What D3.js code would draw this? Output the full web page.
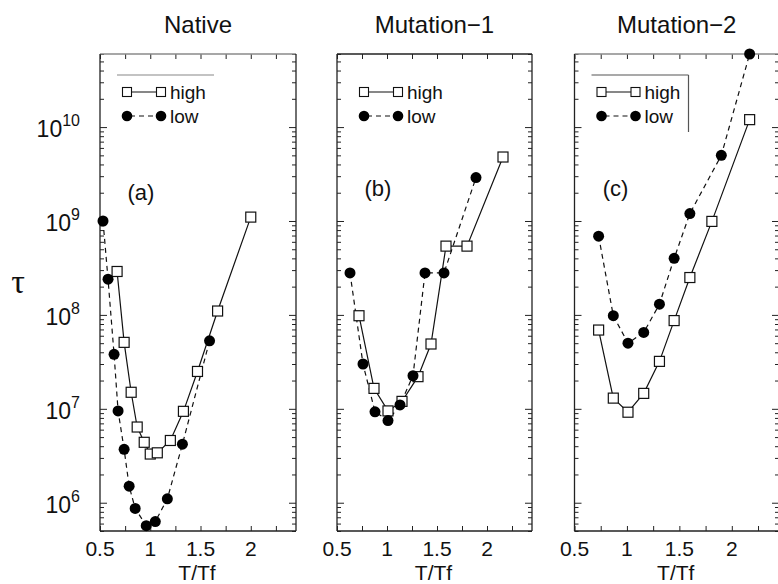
<!DOCTYPE html>
<html>
<head>
<meta charset="utf-8">
<script src="https://cdn.jsdelivr.net/npm/d3@7"></script>
<style>
  html, body { margin: 0; padding: 0; background: #fff; }
  svg { display: block; font-family: "Liberation Sans", Arial, Helvetica, sans-serif; }
</style>
</head>
<body>
<svg id="chart" width="778" height="584"></svg>
<script>
// Folding time tau versus reduced temperature T/Tf, three sequences
const panelTitles = ["Native", "Mutation\u22121", "Mutation\u22122"];
const panelTags = ["(a)", "(b)", "(c)"];
const seriesNames = ["high", "low"];

// Native
const nativeHighT = [0.67, 0.74, 0.81, 0.87, 0.94, 1.00, 1.07, 1.20, 1.33, 1.47, 1.67, 2.00];
const nativeHighTau = [2.9e8, 5.1e7, 1.5e7, 6.4e6, 4.4e6, 3.3e6, 3.4e6, 4.6e6, 9.4e6, 2.5e7, 1.1e8, 1.1e9];
const nativeLowT = [0.53, 0.58, 0.64, 0.68, 0.74, 0.79, 0.85, 0.96, 1.05, 1.17, 1.32, 1.59];
const nativeLowTau = [1.0e9, 2.4e8, 3.8e7, 9.5e6, 3.7e6, 1.5e6, 8.7e5, 5.7e5, 6.3e5, 1.1e6, 4.2e6, 5.3e7];

// Mutation-1
const mut1HighT = [0.72, 0.87, 1.01, 1.15, 1.31, 1.44, 1.59, 1.80, 2.16];
const mut1HighTau = [9.8e7, 1.65e7, 9.5e6, 1.2e7, 2.2e7, 4.9e7, 5.4e8, 5.4e8, 4.8e9];
const mut1LowT = [0.63, 0.76, 0.88, 1.01, 1.13, 1.26, 1.38, 1.57, 1.89];
const mut1LowTau = [2.8e8, 3.0e7, 9.3e6, 7.5e6, 1.1e7, 2.25e7, 2.8e8, 2.8e8, 2.9e9];

// Mutation-2
const mut2HighT = [0.73, 0.87, 1.01, 1.16, 1.31, 1.45, 1.60, 1.81, 2.17];
const mut2HighTau = [6.9e7, 1.3e7, 9.2e6, 1.46e7, 3.2e7, 8.7e7, 2.5e8, 9.9e8, 1.2e10];
const mut2LowT = [0.73, 0.87, 1.01, 1.16, 1.31, 1.45, 1.60, 1.90, 2.17];
const mut2LowTau = [6.9e8, 9.8e7, 5.0e7, 6.5e7, 1.3e8, 4.0e8, 1.2e9, 5.0e9, 6.0e10];

// Axis ticks
const xTickValues = [0.5, 1, 1.5, 2];
const xTickLabels = ["0.5", "1", "1.5", "2"];
const yTickExponents = [6, 7, 8, 9, 10];

const xDomain = [0.5, 2.45];
const yDomain = [5e5, 6e10];

const zip = (a, b) => a.map((v, i) => [v, b[i]]);
const panels = [
  { high: zip(nativeHighT, nativeHighTau), low: zip(nativeLowT, nativeLowTau), left: 100, right: 296, legendBox: "top" },
  { high: zip(mut1HighT, mut1HighTau), low: zip(mut1LowT, mut1LowTau), left: 337, right: 532, legendBox: "none" },
  { high: zip(mut2HighT, mut2HighTau), low: zip(mut2LowT, mut2LowTau), left: 574.5, right: 779, legendBox: "topright" }
];

const plotTop = 54, plotBottom = 531;
const svg = d3.select("#chart");
const y = d3.scaleLog().domain(yDomain).range([plotBottom, plotTop]);

// minor ticks of the log axis: 2..9 × 10^k
const yMinor = [];
for (let k = 5; k <= 10; k++) for (let m = 2; m <= 9; m++) {
  const v = m * Math.pow(10, k);
  if (v >= yDomain[0] && v <= yDomain[1]) yMinor.push(v);
}
const yMajor = yTickExponents.map(e => Math.pow(10, e));
const xAll = d3.range(0.5, 2.45, 0.25);

panels.forEach((p, i) => {
  const x = d3.scaleLinear().domain(xDomain).range([p.left, p.right]);
  const g = svg.append("g");

  // ticks, all pointing inward
  const tickStyle = sel => { sel.select(".domain").remove(); sel.selectAll("line").attr("stroke", "#222").attr("stroke-width", 1); };
  g.append("g").attr("transform", `translate(${p.left},0)`)
    .call(d3.axisRight(y).tickValues(yMinor).tickSize(4).tickFormat("")).call(tickStyle);
  g.append("g").attr("transform", `translate(${p.left},0)`)
    .call(d3.axisRight(y).tickValues(yMajor).tickSize(7).tickFormat("")).call(tickStyle);
  g.append("g").attr("transform", `translate(${p.right},0)`)
    .call(d3.axisLeft(y).tickValues(yMinor).tickSize(4).tickFormat("")).call(tickStyle);
  g.append("g").attr("transform", `translate(${p.right},0)`)
    .call(d3.axisLeft(y).tickValues(yMajor).tickSize(7).tickFormat("")).call(tickStyle);
  g.append("g").attr("transform", `translate(0,${plotBottom})`)
    .call(d3.axisTop(x).tickValues(xAll).tickSize(5).tickFormat("")).call(tickStyle);
  g.append("g").attr("transform", `translate(0,${plotTop})`)
    .call(d3.axisBottom(x).tickValues(xAll).tickSize(5).tickFormat("")).call(tickStyle);

  // frame
  const topColor = (i === 1) ? "#222" : "#8a8a8a";
  g.append("line").attr("x1", p.left).attr("x2", p.right).attr("y1", plotTop).attr("y2", plotTop).attr("stroke", topColor).attr("stroke-width", 1.3);
  g.append("line").attr("x1", p.left).attr("x2", p.right).attr("y1", plotBottom).attr("y2", plotBottom).attr("stroke", "#222").attr("stroke-width", 1.3);
  g.append("line").attr("x1", p.left).attr("x2", p.left).attr("y1", plotTop).attr("y2", plotBottom).attr("stroke", "#222").attr("stroke-width", 1.3);
  g.append("line").attr("x1", p.right).attr("x2", p.right).attr("y1", plotTop).attr("y2", plotBottom).attr("stroke", "#222").attr("stroke-width", 1.3);

  // x tick labels
  g.selectAll(".xl").data(xTickValues).enter().append("text")
    .attr("x", d => x(d)).attr("y", 556).attr("text-anchor", "middle")
    .attr("font-size", 21).attr("fill", "#111")
    .text((d, j) => xTickLabels[j]);

  // x axis title
  g.append("text").attr("x", (p.left + p.right) / 2 - 1).attr("y", 579.5)
    .attr("text-anchor", "middle").attr("font-size", 21).attr("fill", "#111").text("T/Tf");

  // panel title
  g.append("text").attr("x", (p.left + p.right) / 2).attr("y", 33)
    .attr("text-anchor", "middle").attr("font-size", 24).attr("fill", "#111").text(panelTitles[i]);

  // panel tag
  g.append("text").attr("x", p.left + 41).attr("y", i === 0 ? 200 : 196)
    .attr("text-anchor", "middle").attr("font-size", 22).attr("fill", "#111").text(panelTags[i]);

  // curves
  const line = d3.line().x(d => x(d[0])).y(d => y(d[1]));
  g.append("path").datum(p.high).attr("d", line).attr("fill", "none")
    .attr("stroke", "#111").attr("stroke-width", 1.2);
  g.append("path").datum(p.low).attr("d", line).attr("fill", "none")
    .attr("stroke", "#111").attr("stroke-width", 1.2).attr("stroke-dasharray", "5,4");

  g.selectAll(".hi").data(p.high).enter().append("rect")
    .attr("x", d => x(d[0]) - 5).attr("y", d => y(d[1]) - 5)
    .attr("width", 10).attr("height", 10)
    .attr("fill", "#fff").attr("stroke", "#111").attr("stroke-width", 1.2);
  g.selectAll(".lo").data(p.low).enter().append("circle")
    .attr("cx", d => x(d[0])).attr("cy", d => y(d[1])).attr("r", 5.5)
    .attr("fill", "#000");

  // legend
  const lx1 = p.left + 27, lx2 = p.left + 61, tx = p.left + 70;
  const rowHigh = 92, rowLow = 116;
  const lg = g.append("g");
  lg.append("line").attr("x1", lx1).attr("x2", lx2).attr("y1", rowHigh).attr("y2", rowHigh)
    .attr("stroke", "#111").attr("stroke-width", 1.2);
  [lx1, lx2].forEach(cx => lg.append("rect").attr("x", cx - 4.5).attr("y", rowHigh - 4.5)
    .attr("width", 9).attr("height", 9).attr("fill", "#fff").attr("stroke", "#111").attr("stroke-width", 1.1));
  lg.append("line").attr("x1", lx1).attr("x2", lx2).attr("y1", rowLow).attr("y2", rowLow)
    .attr("stroke", "#111").attr("stroke-width", 1.2).attr("stroke-dasharray", "5,4").attr("stroke-dashoffset", -3);
  [lx1, lx2].forEach(cx => lg.append("circle").attr("cx", cx).attr("cy", rowLow).attr("r", 5.3).attr("fill", "#000"));
  lg.append("text").attr("x", tx).attr("y", rowHigh + 6.5).attr("font-size", 19).attr("fill", "#111").text(seriesNames[0]);
  lg.append("text").attr("x", tx).attr("y", rowLow + 6.5).attr("font-size", 19).attr("fill", "#111").text(seriesNames[1]);
  if (p.legendBox === "top" || p.legendBox === "topright") {
    lg.append("line").attr("x1", p.left + 17).attr("x2", p.left + 114).attr("y1", 75).attr("y2", 75)
      .attr("stroke", p.legendBox === "top" ? "#888" : "#555").attr("stroke-width", 1.2);
  }
  if (p.legendBox === "topright") {
    lg.append("line").attr("x1", p.left + 114).attr("x2", p.left + 114).attr("y1", 75).attr("y2", 132)
      .attr("stroke", "#555").attr("stroke-width", 1.2);
  }

  // y tick labels on the first panel only
  if (i === 0) {
    yTickExponents.forEach(e => {
      const t = g.append("text").attr("x", 80).attr("y", y(Math.pow(10, e)) + 10)
        .attr("text-anchor", "end").attr("font-size", 23).attr("fill", "#111");
      t.append("tspan").text("10");
      t.append("tspan").attr("dy", -11).attr("font-size", 16).text(String(e));
    });
  }
});

// y axis title
svg.append("text").attr("x", 18).attr("y", 293).attr("text-anchor", "middle")
  .attr("font-family", "'Liberation Serif', 'DejaVu Serif', serif")
  .attr("font-size", 34).attr("fill", "#111").text("\u03c4");
</script>
</body>
</html>
